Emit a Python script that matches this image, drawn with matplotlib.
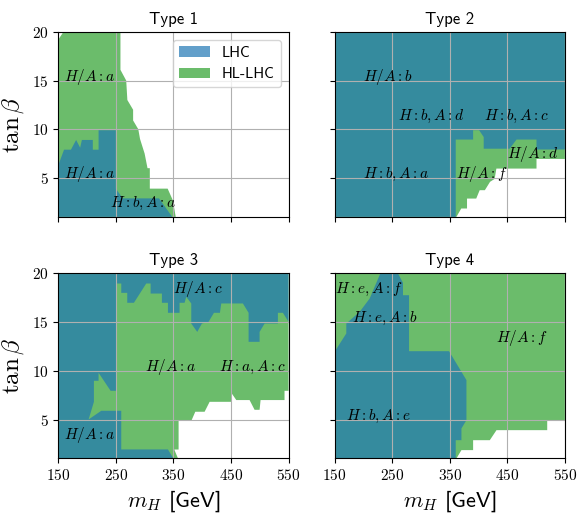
import matplotlib.pyplot as plt
from matplotlib.patches import Patch

plt.rcParams["mathtext.fontset"] = "cm"
plt.rcParams["axes.unicode_minus"] = False

# exclusion outlines, (m_H [GeV], tan beta)
# HL-LHC reach (green) and LHC reach (blue, drawn on top)
t1_hl_m = [150, 150, 159, 258, 258, 268, 270, 280, 280, 289, 292, 300, 305, 309, 309, 340, 349, 354]
t1_hl_tb = [1, 19.2, 20, 20, 16.1, 15, 13, 12, 10.9, 10, 9, 7.5, 6, 6, 3.9, 3.9, 2.7, 1]
t1_lhc_m = [150, 150, 160, 172, 181, 188, 191, 210, 210, 220, 220, 250, 250, 262, 325, 348]
t1_lhc_tb = [1, 6.3, 7.9, 7.9, 8.9, 8.1, 8.9, 8.9, 7.9, 7.9, 9.9, 9.9, 3.9, 2.9, 2.9, 1]

t2_hl_m = [150, 150, 550, 550, 500.7, 500.7, 431, 428, 420, 411, 402, 396, 380, 380, 370, 361.6]
t2_hl_tb = [1, 20, 20, 6.95, 6.95, 5.96, 5.96, 4.9, 4.6, 3.74, 3.74, 2.88, 2.88, 1.86, 1.86, 1]
t2_lhc_m = [150, 150, 550, 550, 500.7, 500.7, 466, 454, 409, 409, 401, 390.6, 390.6, 360.4, 360.4]
t2_lhc_tb = [1, 20, 20, 7.92, 7.92, 8.94, 8.94, 8.0, 8.0, 9.2, 9.9, 9.9, 8.94, 8.94, 1]

t3_hl_m = [150, 150, 550, 550, 543, 543, 501.4, 499.7, 491, 482.3, 459.2, 450.5, 450.5,
           412.9, 404.2, 388, 381, 359, 359, 351.5, 358]
t3_hl_tb = [1, 20, 20, 7.95, 7.95, 7, 7, 6, 6, 7, 7, 7.75, 6.82,
            6.82, 5.8, 5.8, 4.85, 4.85, 1.92, 1.92, 1]
t3_lhc_m = [150, 150, 550, 550, 540.2, 531.5, 531.5, 508.4, 499.7, 499.7, 480.6, 480.6,
            470.7, 433.1, 430.8, 420.4, 411, 399.5, 391.4, 381, 381, 372.3, 369.4,
            360.7, 360.7, 340.5, 340.5, 330, 330, 310.4, 310.4, 302.8, 281.4, 269.8,
            269.8, 259.4, 259.4, 250.7, 250.7, 240.9, 220, 220, 211.9, 211.9, 202.7,
            224.7, 259.4, 259.4, 340.5, 350]
t3_lhc_tb = [1, 20, 20, 15.03, 15.96, 15.96, 14.86, 14.86, 14.0, 12.98, 12.98, 15.96,
             16.92, 16.92, 15.96, 15.96, 15.03, 14.86, 14.0, 14.86, 16.92, 17.6, 16.99,
             16.99, 15.96, 15.96, 16.99, 16.99, 17.94, 17.94, 18.97, 18.97, 16.99, 16.99,
             18.01, 18.01, 18.97, 18.97, 7.95, 7.95, 9.8, 8.98, 8.98, 6.82, 5.01,
             5.9, 5.9, 1.93, 1.93, 1]

t4_hl_m = [150, 150, 550, 550, 519.3, 519.3, 431.2, 419.6, 390.6, 390.6, 370.3, 361.6]
t4_hl_tb = [1, 20, 20, 4.87, 4.87, 3.91, 3.91, 2.88, 2.88, 1.86, 1.86, 1]
t4_lhc_m = [150, 150, 151.7, 170.3, 170.3, 193.5, 210.9, 229.4, 260.1, 268.8, 268.8,
            279.3, 279.3, 348.8, 379, 379, 370.3, 370.3, 360.4, 360.4]
t4_lhc_tb = [1, 11.95, 12.12, 13.84, 14.86, 16.06, 17.43, 20, 20, 19.04, 17.77,
             17.77, 12.02, 12.02, 9.05, 4.94, 4.08, 2.88, 2.88, 1]

# channel labels: text, m_H, tan beta
t1_labels = [("$H/A:a$", 160, 15), ("$H/A:a$", 160, 5), ("$H:b,A:a$", 240, 2)]
t2_labels = [("$H/A:b$", 200, 15), ("$H:b,A:d$", 260, 11), ("$H:b,A:c$", 410, 11),
             ("$H/A:d$", 450, 7), ("$H/A:f$", 360, 5), ("$H:b,A:a$", 200, 5)]
t3_labels = [("$H/A:c$", 350, 18), ("$H/A:a$", 300, 10), ("$H:a,A:c$", 430, 10),
             ("$H/A:a$", 160, 3)]
t4_labels = [("$H:e,A:f$", 150, 18), ("$H:e,A:b$", 180, 15), ("$H/A:f$", 430, 13),
             ("$H:b,A:e$", 170, 5)]

titles = ["Type 1", "Type 2", "Type 3", "Type 4"]
x_ticks = [150, 250, 350, 450, 550]
y_ticks = [5, 10, 15, 20]

panels = [
    (t1_hl_m, t1_hl_tb, t1_lhc_m, t1_lhc_tb, t1_labels),
    (t2_hl_m, t2_hl_tb, t2_lhc_m, t2_lhc_tb, t2_labels),
    (t3_hl_m, t3_hl_tb, t3_lhc_m, t3_lhc_tb, t3_labels),
    (t4_hl_m, t4_hl_tb, t4_lhc_m, t4_lhc_tb, t4_labels),
]

sans = "cmss10"

fig, axes = plt.subplots(2, 2, sharex=True, sharey=True, figsize=(5.77, 5.14), dpi=100)
fig.subplots_adjust(left=0.101, right=0.979, top=0.938, bottom=0.108, wspace=0.2, hspace=0.306)

for i, ax in enumerate(axes.flat):
    hl_m, hl_tb, lhc_m, lhc_tb, labels = panels[i]
    ax.fill(hl_m, hl_tb, color="C2", alpha=0.7, lw=0)
    ax.fill(lhc_m, lhc_tb, color="C0", alpha=0.7, lw=0)
    for text, xm, ytb in labels:
        ax.text(xm, ytb, text, fontsize=11)
    ax.set_xlim(150, 550)
    ax.set_ylim(1, 20)
    ax.grid(True)
    ax.set_title(titles[i], fontsize=12, family=sans)
    ax.set_xticks(x_ticks, labels=[f"${v}$" for v in x_ticks], fontsize=11)
    ax.set_yticks(y_ticks, labels=[f"${v}$" for v in y_ticks], fontsize=11)

for ax in axes[1]:
    ax.set_xlabel(r"$m_H$ [GeV]", fontsize=16, family=sans)
for ax in axes[:, 0]:
    ax.set_ylabel(r"$\tan\beta$", fontsize=18)

handles = [Patch(color="C0", alpha=0.7, lw=0), Patch(color="C2", alpha=0.7, lw=0)]
axes[0, 0].legend(handles, ["LHC", "HL-LHC"], loc="upper right", prop={"family": sans, "size": 11})

fig.savefig("out.png")
